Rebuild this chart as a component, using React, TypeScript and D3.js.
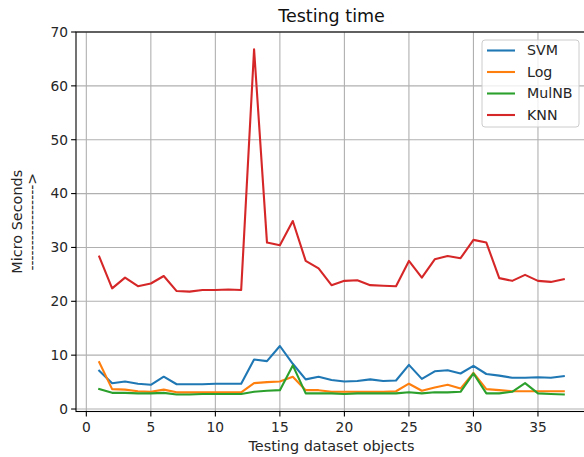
import React from 'react';
import * as d3 from 'd3';

const objects = d3.range(1, 38);

const svm = [7.1, 4.8, 5.1, 4.7, 4.5, 6.0, 4.6, 4.6, 4.6, 4.7, 4.7, 4.7, 9.2, 8.9, 11.7, 8.4, 5.5, 6.0, 5.4, 5.1, 5.2, 5.5, 5.2, 5.3, 8.2, 5.6, 7.0, 7.2, 6.6, 8.0, 6.5, 6.2, 5.8, 5.8, 5.9, 5.8, 6.1];
const logReg = [8.7, 3.7, 3.6, 3.3, 3.2, 3.6, 3.1, 3.1, 3.1, 3.1, 3.1, 3.1, 4.8, 5.0, 5.1, 6.0, 3.5, 3.5, 3.2, 3.2, 3.2, 3.2, 3.2, 3.3, 4.7, 3.4, 4.0, 4.5, 3.8, 6.7, 3.7, 3.5, 3.3, 3.3, 3.3, 3.3, 3.3];
const mulNB = [3.7, 3.0, 3.0, 2.9, 2.9, 3.0, 2.7, 2.7, 2.8, 2.8, 2.8, 2.8, 3.2, 3.4, 3.5, 8.1, 2.9, 2.9, 2.9, 2.8, 2.9, 2.9, 2.9, 2.9, 3.1, 2.9, 3.1, 3.1, 3.2, 6.6, 2.9, 2.9, 3.2, 4.8, 2.9, 2.8, 2.7];
const knn = [28.3, 22.4, 24.4, 22.8, 23.3, 24.7, 21.9, 21.8, 22.1, 22.1, 22.2, 22.1, 66.8, 30.9, 30.4, 34.9, 27.5, 26.1, 23.0, 23.8, 23.9, 23.0, 22.9, 22.8, 27.5, 24.4, 27.8, 28.4, 28.0, 31.4, 30.9, 24.3, 23.8, 24.9, 23.8, 23.6, 24.1];

const seriesNames = ['SVM', 'Log', 'MulNB', 'KNN'];
const seriesData = [svm, logReg, mulNB, knn];
const colors = ['#1f77b4', '#ff7f0e', '#2ca02c', '#d62728'];

const xTicks = [0, 5, 10, 15, 20, 25, 30, 35];
const yTicks = [0, 10, 20, 30, 40, 50, 60, 70];

const W = 584;
const H = 457;
const font = 'DejaVu Sans, sans-serif';

export default function App() {
  const x = d3.scaleLinear().domain([-0.8, 38.8]).range([76, 587]);
  const y = d3.scaleLinear().domain([-0.46, 70]).range([411.5, 32]);

  const line = d3.line<number>()
    .x((_, i) => x(objects[i]))
    .y(d => y(d));

  const [x0, x1] = x.range();
  const [yb, yt] = y.range();

  return (
    <svg width={W} height={H} style={{ position: 'absolute', left: 0, top: 0, background: '#fff' }} fontFamily={font}>
      {/* grid */}
      {xTicks.map(t => (
        <line key={'gx' + t} x1={x(t)} x2={x(t)} y1={yt} y2={yb} stroke="#b0b0b0" strokeWidth={1.1} />
      ))}
      {yTicks.map(t => (
        <line key={'gy' + t} x1={x0} x2={x1} y1={y(t)} y2={y(t)} stroke="#b0b0b0" strokeWidth={1.1} />
      ))}

      {/* lines */}
      {seriesData.map((s, i) => (
        <path key={seriesNames[i]} d={line(s) || ''} fill="none" stroke={colors[i]} strokeWidth={2.1} strokeLinejoin="round" strokeLinecap="square" />
      ))}

      {/* spines */}
      <rect x={x0} y={yt} width={x1 - x0} height={yb - yt} fill="none" stroke="#000" strokeWidth={1.1} />

      {/* x ticks */}
      {xTicks.map(t => (
        <g key={'tx' + t} transform={`translate(${x(t)},${yb})`}>
          <line y2={4.9} stroke="#000" strokeWidth={1.1} />
          <text y={20} textAnchor="middle" fontSize={13.8} fill="#262626">{t}</text>
        </g>
      ))}
      {/* y ticks */}
      {yTicks.map(t => (
        <g key={'ty' + t} transform={`translate(${x0},${y(t)})`}>
          <line x2={-4.9} stroke="#000" strokeWidth={1.1} />
          <text x={-8} dy="0.35em" textAnchor="end" fontSize={13.8} fill="#262626">{t}</text>
        </g>
      ))}

      {/* titles */}
      <text x={(x0 + x1) / 2} y={22} textAnchor="middle" fontSize={17.5} fill="#111">Testing time</text>
      <text x={(x0 + x1) / 2} y={451} textAnchor="middle" fontSize={14.4} fill="#262626">Testing dataset objects</text>
      <g transform={`translate(22,${(yt + yb) / 2}) rotate(-90)`}>
        <text textAnchor="middle" fontSize={14.4} fill="#262626">Micro Seconds</text>
        <text y={15} textAnchor="middle" fontSize={14} fill="#262626">{'----------------->'}</text>
      </g>

      {/* legend */}
      <g transform="translate(482,40)">
        <rect width={97} height={87} rx={3} fill="#fff" fillOpacity={0.8} stroke="#cccccc" strokeWidth={1} />
        {seriesNames.map((n, i) => (
          <g key={'lg' + n} transform={`translate(0,${10.5 + i * 21.5})`}>
            <line x1={5} x2={33} stroke={colors[i]} strokeWidth={2.1} />
            <text x={45} dy="0.35em" fontSize={14.2} fill="#262626">{n}</text>
          </g>
        ))}
      </g>
    </svg>
  );
}
